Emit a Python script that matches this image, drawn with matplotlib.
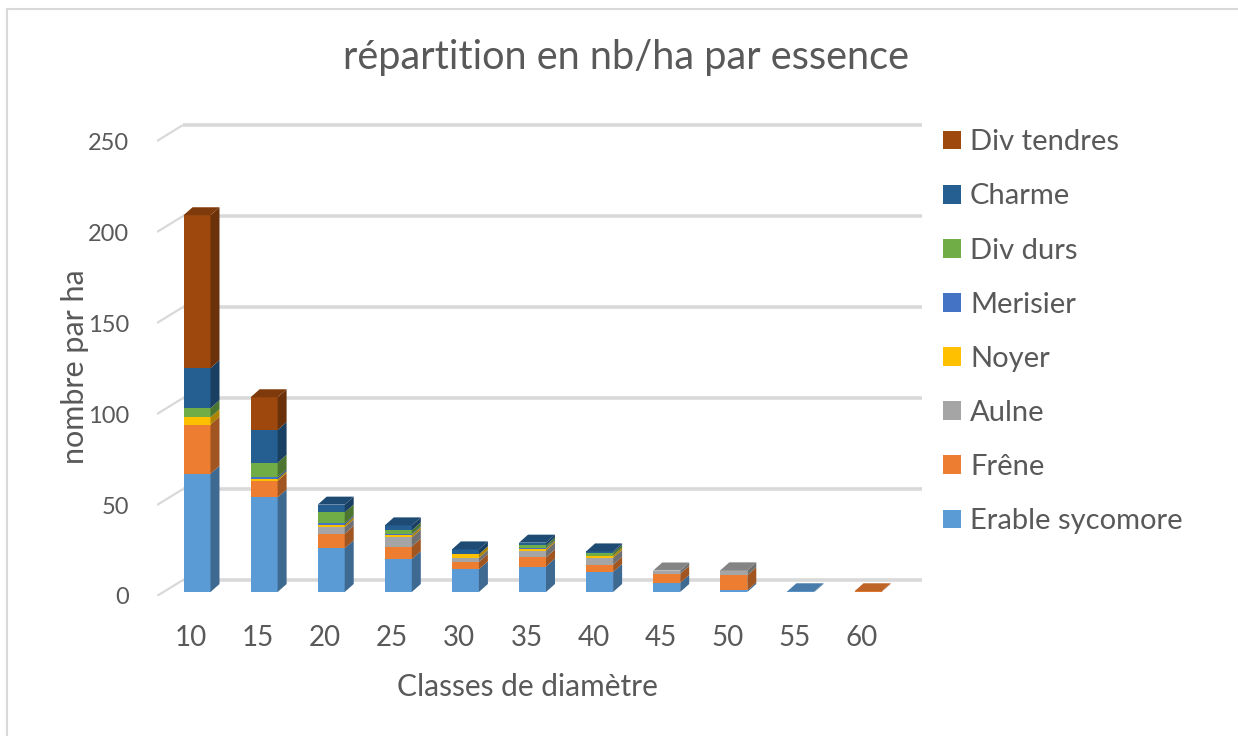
import matplotlib.pyplot as plt
import numpy as np
from matplotlib.patches import Polygon, Rectangle, Patch
from matplotlib.colors import to_rgb

plt.rcParams['font.family'] = ['Lato', 'DejaVu Sans']

classes = ['10', '15', '20', '25', '30', '35', '40', '45', '50', '55', '60']
erable = [65, 52, 24, 18, 12.5, 14, 11, 5, 0.9, 0.4, 0]
frene = [27, 9, 8, 7, 4, 5, 4, 5, 8.3, 0, 0.4]
aulne = [0, 0, 3.6, 5, 2.2, 3.8, 3.7, 1.8, 2.7, 0, 0]
noyer = [4, 1, 1.3, 1.3, 2, 1, 1.3, 0, 0, 0, 0]
merisier = [0, 1, 0.8, 0.5, 0, 0.5, 0, 0, 0, 0, 0]
div_durs = [5, 8, 6, 2, 0, 1.3, 1.5, 0, 0, 0, 0]
charme = [22, 18, 4.3, 2.8, 2.7, 1.5, 0.8, 0, 0, 0, 0]
div_tendres = [84, 18, 0, 0, 0, 0, 0, 0, 0, 0, 0]

names = ['Erable sycomore', 'Frêne', 'Aulne', 'Noyer', 'Merisier',
         'Div durs', 'Charme', 'Div tendres']
series = [erable, frene, aulne, noyer, merisier, div_durs, charme, div_tendres]
colors = ['#5B9BD5', '#ED7D31', '#A5A5A5', '#FFC000', '#4472C4',
          '#70AD47', '#255E91', '#9E480E']

txt = '#595959'
grid = '#d9d9d9'


def shade(c, f):
    return tuple(np.array(to_rgb(c)) * f)


W, H = 1238, 736
fig = plt.figure(figsize=(W / 100, H / 100), dpi=100)

# border of the chart area
fig.patches.append(Rectangle((7 / W, -0.1), 1.2, 1 - 9 / H + 0.1, transform=fig.transFigure,
                             fill=False, edgecolor=grid, lw=1.5))

# plot region in pixels (front plane: 0 at y=596, 250 at y=141)
x0, x1, ytop, ybot = 157, 922, 121, 596
step, unit = 67.1, 1.82
ax = fig.add_axes([x0 / W, 1 - ybot / H, (x1 - x0) / W, (ybot - ytop) / H])
xmin, xmax = (x0 - 191) / step, (x1 - 191) / step
ax.set_xlim(xmin, xmax)
ax.set_ylim(0, (ybot - ytop) / unit)
for s in ax.spines.values():
    s.set_visible(False)


def px(dx, dy):
    return dx / step, dy / unit


wx, wy = px(26, 16)      # back wall offset
bx, by = px(6, 4)        # bar front face offset
dx, dy = px(9, 8)        # bar depth
bw = 27 / step

# back wall gridlines + floor diagonals
yt = np.arange(0, 251, 50)
for v in yt:
    ax.plot([xmin, xmin + wx], [v, v + wy], color=grid, lw=1.6, zorder=1, solid_capstyle='butt')
    ax.plot([xmin + wx, xmax], [v + wy, v + wy], color=grid, lw=2.6, zorder=1, solid_capstyle='butt')

x = np.arange(len(classes))
bottom = np.zeros(len(classes))
for vals, c in zip(series, colors):
    vals = np.array(vals, dtype=float)
    ax.bar(x + bx, vals, width=bw, bottom=bottom + by, color=c, zorder=3, linewidth=0)
    for i in range(len(x)):
        if vals[i] <= 0:
            continue
        xr = x[i] + bx + bw / 2
        b = bottom[i] + by
        t = b + vals[i]
        ax.add_patch(Polygon([(xr, b), (xr, t), (xr + dx, t + dy), (xr + dx, b + dy)],
                             closed=True, facecolor=shade(c, 0.68), edgecolor='none', zorder=3))
    bottom = bottom + vals

# top faces
for i in range(len(x)):
    top_c = None
    for vals, c in zip(series, colors):
        if vals[i] > 0:
            top_c = c
    if top_c is None:
        continue
    xl = x[i] + bx - bw / 2
    xr = x[i] + bx + bw / 2
    T = bottom[i] + by
    ax.add_patch(Polygon([(xl, T), (xr, T), (xr + dx, T + dy), (xl + dx, T + dy)],
                         closed=True, facecolor=shade(top_c, 0.8), edgecolor='none', zorder=4))

ax.set_xticks(x)
ax.set_xticklabels(classes)
ax.set_yticks(yt)
ax.tick_params(axis='x', length=0, pad=21, labelsize=20, labelcolor=txt)
ax.tick_params(axis='y', length=0, pad=20, labelsize=17, labelcolor=txt)
ax.set_xlabel('Classes de diamètre', fontsize=21.5, color=txt, va='center')
ax.xaxis.set_label_coords((527 - x0) / (x1 - x0), (ybot - 687) / (ybot - ytop))
ax.set_ylabel('nombre par ha', fontsize=22, color=txt, va='center')
ax.yaxis.set_label_coords((75 - x0) / (x1 - x0), (ybot - 367) / (ybot - ytop))

fig.text(626 / W, 1 - 58 / H, 'répartition en nb/ha par essence', ha='center', va='center',
         fontsize=28.6, color=txt)

handles = [Patch(facecolor=c, edgecolor='none') for c in colors][::-1]
leg = fig.legend(handles, names[::-1], loc='upper left', bbox_to_anchor=(917 / W, 1 - 103 / H),
                 frameon=False, fontsize=21, labelcolor=txt, handlelength=0.62, handleheight=0.62,
                 handletextpad=0.3, labelspacing=0.965)

fig.savefig('out.png', dpi=100, facecolor='white')
